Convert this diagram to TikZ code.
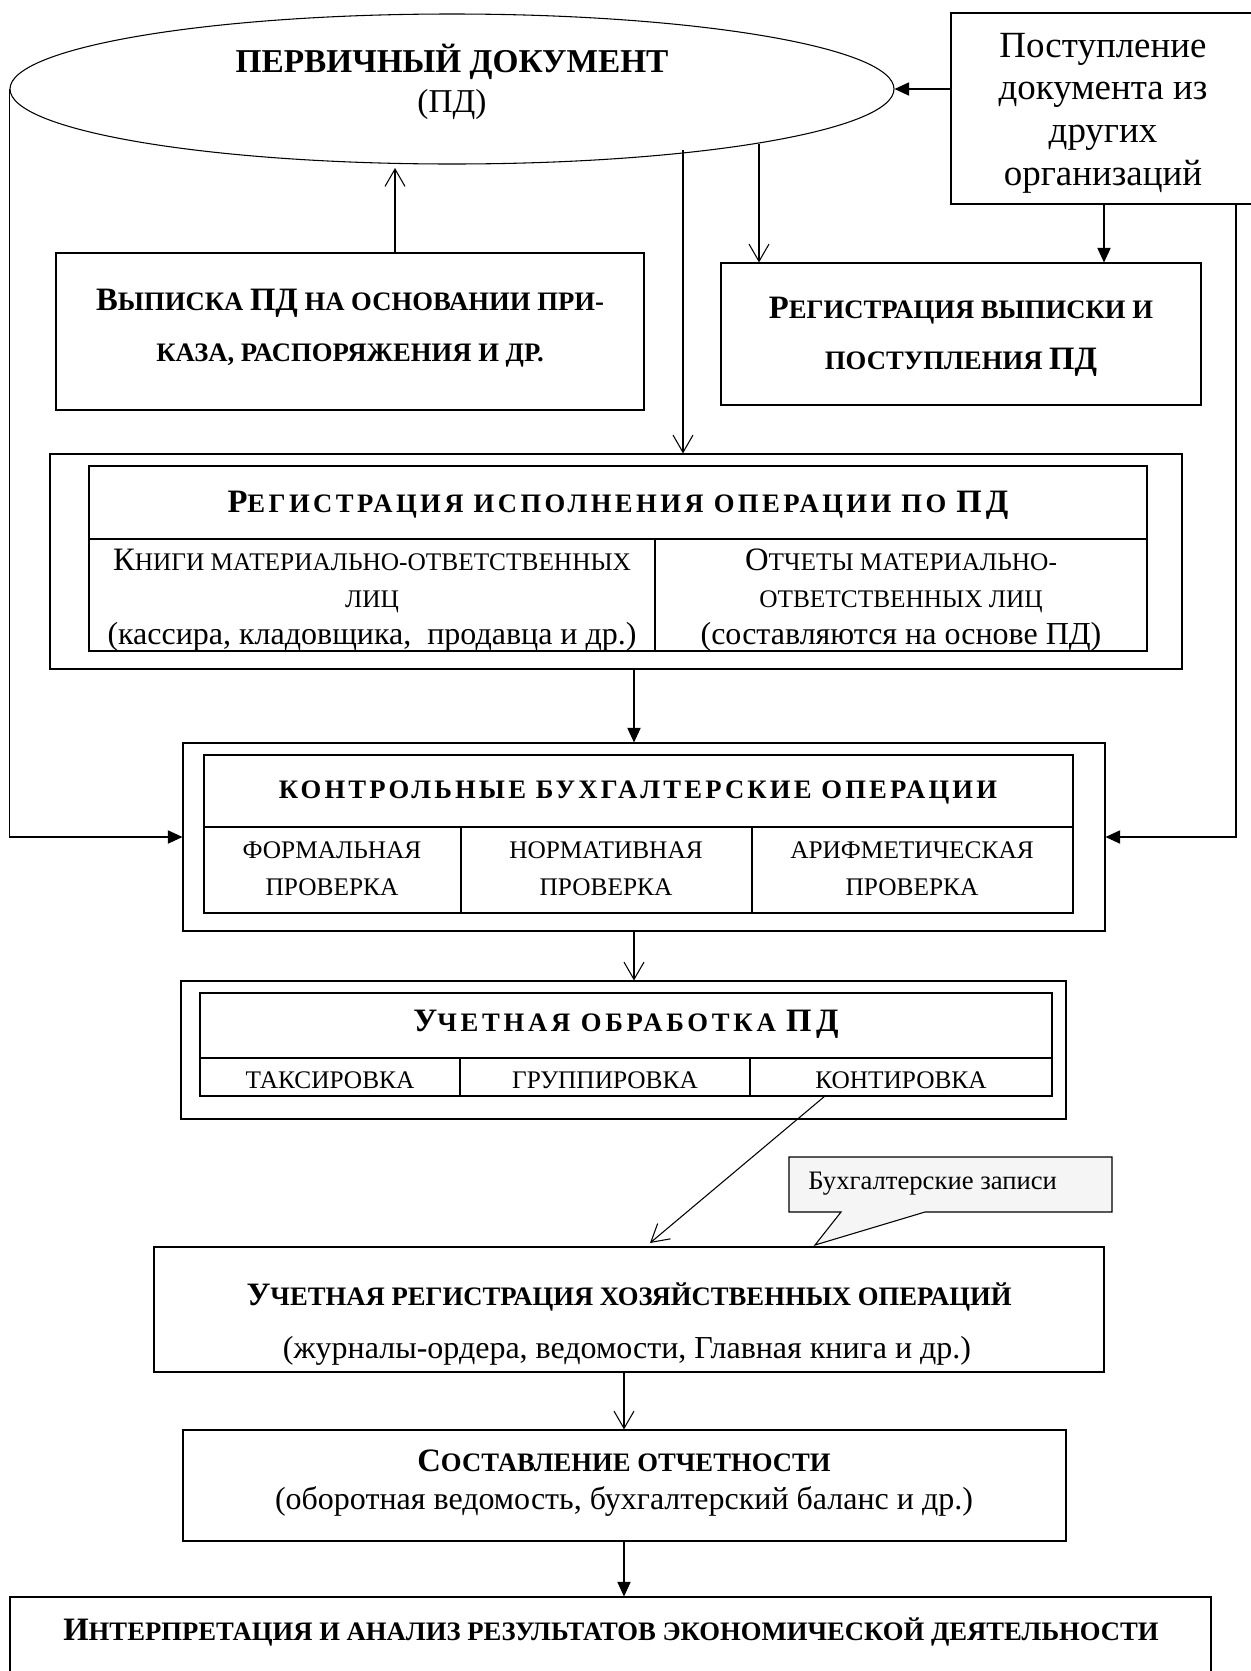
\documentclass[tikz,border=0pt]{standalone}
\usepackage{fontspec}
\setmainfont{Liberation Serif}
\usetikzlibrary{shapes.geometric,arrows.meta,fit,calc}
\newcommand\Bg[1]{{\fontsize{24.5pt}{\baselineskip}\selectfont #1}}
\newcommand\SCb{\fontsize{20pt}{38pt}\selectfont\bfseries}
\newcommand\SCr{\fontsize{19pt}{27.6pt}\selectfont}
\newcommand\RGr{\fontsize{24pt}{27.6pt}\selectfont}
\newcommand\LS[1]{\addfontfeatures{LetterSpace=#1}}
\tikzset{
  box/.style={draw, line width=0.8pt, inner sep=0pt},
  tbl/.style={draw, line width=1.2pt, inner sep=0pt},
  oa/.style={line width=0.8pt, -{Straight Barb[length=13pt,width=15pt]}},
  fa/.style={line width=0.8pt, -{Triangle[length=11pt,width=10pt]}},
  txt/.style={inner sep=0pt, align=center}
}
\begin{document}
\begin{tikzpicture}[x=0.75pt,y=-0.75pt]
\useasboundingbox (0,0) rectangle (1250,1671);
\fill[white] (0,0) rectangle (1250,1671);

% ellipse
\node[ellipse, draw, line width=0.8pt, minimum width=663pt, minimum height=112.5pt, inner sep=0pt] (ell) at (452,89) {};
\node[txt, font=\fontsize{25pt}{30pt}\selectfont\bfseries] (ellt) at (452,62) {ПЕРВИЧНЫЙ ДОКУМЕНТ};
\node[txt, font=\fontsize{25pt}{30pt}\selectfont] (ellp) at (452,104) {(ПД)};

% incoming documents
\node[box, fit={(951,13)(1253,204)}] (post) {};
\node[txt, font=\fontsize{27.7pt}{32pt}\selectfont] (postt) at (1103,113) {Поступление\\документа из\\других\\организаций};

% vypiska
\node[box, fit={(56,253)(644,410)}] (vyp) {};
\node[txt, font=\SCb] (vypt) at (350,328) {\Bg{В}ЫПИСКА \Bg{ПД} НА ОСНОВАНИИ ПРИ-\\КАЗА, РАСПОРЯЖЕНИЯ И ДР.};

% registration of issue
\node[box, fit={(721,263)(1201,405)}] (regv) {};
\node[txt, font=\SCb] (regvt) at (961,337) {\Bg{Р}ЕГИСТРАЦИЯ ВЫПИСКИ И\\ПОСТУПЛЕНИЯ \Bg{ПД}};

% registration of execution
\node[box, fit={(50,454)(1182,669)}] (reg) {};
\node[tbl, fit={(89,466)(1147,651)}] (regi) {};
\draw[line width=1.2pt] (regi.west |- 0,539) coordinate (rg1) -- (regi.east |- 0,539) coordinate (rg2);
\draw[line width=0.8pt] (655,539) coordinate (rg3) -- (regi.south -| rg3);
\node[txt, font=\SCb\LS{12.8}] (regh) at (618,505) {\Bg{Р}ЕГИСТРАЦИЯ ИСПОЛНЕНИЯ ОПЕРАЦИИ ПО \Bg{ПД}};
\node[txt, font=\SCr] (regl) at (372,600) {\Bg{К}НИГИ МАТЕРИАЛЬНО-ОТВЕТСТВЕННЫХ\\ЛИЦ\\\RGr (кассира, кладовщика,\ \ продавца и др.)};
\node[txt, font=\SCr] (regr) at (901,600) {\Bg{О}ТЧЕТЫ МАТЕРИАЛЬНО-\\ОТВЕТСТВЕННЫХ ЛИЦ\\\RGr (составляются на основе ПД)};

% control operations
\node[box, fit={(183,743)(1105,931)}] (kon) {};
\node[tbl, fit={(204,755)(1073,913)}] (koni) {};
\draw[line width=1.2pt] (koni.west |- 0,827) coordinate (kn1) -- (koni.east |- 0,827) coordinate (kn2);
\draw[line width=0.8pt] (461,827) coordinate (kn3) -- (koni.south -| kn3);
\draw[line width=0.8pt] (752,827) coordinate (kn4) -- (koni.south -| kn4);
\node[txt, font=\SCb\LS{11.8}] (konh) at (638,793) {КОНТРОЛЬНЫЕ БУХГАЛТЕРСКИЕ ОПЕРАЦИИ};
\node[txt, font=\SCr] (kona) at (332,869) {ФОРМАЛЬНАЯ\\ПРОВЕРКА};
\node[txt, font=\SCr] (konb) at (606,869) {НОРМАТИВНАЯ\\ПРОВЕРКА};
\node[txt, font=\SCr] (konc) at (912,869) {АРИФМЕТИЧЕСКАЯ\\ПРОВЕРКА};

% accounting processing
\node[box, fit={(181,981)(1066,1119)}] (uch) {};
\node[tbl, fit={(200,993)(1052,1096)}] (uchi) {};
\draw[line width=1.2pt] (uchi.west |- 0,1058) coordinate (uc1) -- (uchi.east |- 0,1058) coordinate (uc2);
\draw[line width=0.8pt] (460,1058) coordinate (uc3) -- (uchi.south -| uc3);
\draw[line width=0.8pt] (750,1058) coordinate (uc4) -- (uchi.south -| uc4);
\node[txt, font=\SCb\LS{14}] (uchh) at (626,1024) {\Bg{У}ЧЕТНАЯ ОБРАБОТКА \Bg{ПД}};
\node[txt, font=\SCr] (ucha) at (330,1080) {ТАКСИРОВКА};
\node[txt, font=\SCr] (uchb) at (605,1080) {ГРУППИРОВКА};
\node[txt, font=\SCr] (uchc) at (901,1080) {КОНТИРОВКА};

% callout
\draw[line width=0.8pt, fill=gray!8] (789,1157) -- (1112,1157) -- (1112,1212) -- (925,1212) -- (815,1245) -- (841,1212) -- (789,1212) -- cycle;
\node[txt, anchor=west, font=\fontsize{20pt}{24pt}\selectfont] (callt) at (808,1184) {Бухгалтерские записи};

% accounting registration
\node[box, fit={(154,1247)(1104,1372)}] (ureg) {};
\node[txt, font=\SCb] (uregt) at (629,1297) {\Bg{У}ЧЕТНАЯ РЕГИСТРАЦИЯ ХОЗЯЙСТВЕННЫХ ОПЕРАЦИЙ};
\node[txt, font=\RGr] (uregs) at (627,1351) {(журналы-ордера, ведомости, Главная книга и др.)};

% reporting
\node[box, fit={(183,1430)(1066,1541)}] (sost) {};
\node[txt, font=\SCb] (sostt) at (624,1461) {\Bg{С}ОСТАВЛЕНИЕ ОТЧЕТНОСТИ};
\node[txt, font=\RGr] (osts) at (624,1501) {(оборотная ведомость, бухгалтерский баланс и др.)};

% interpretation
\node[box, fit={(10,1597)(1211,1710)}] (interp) {};
\node[txt, font=\SCb] (interpt) at (611,1632) {\Bg{И}НТЕРПРЕТАЦИЯ И АНАЛИЗ РЕЗУЛЬТАТОВ ЭКОНОМИЧЕСКОЙ ДЕЯТЕЛЬНОСТИ};

% connectors
\draw[fa] (ell.west) |- (kon.west);
\coordinate (pr) at (1236,204);
\draw[fa] (pr) |- (kon.east);
\draw[fa] (post.west |- ell.east) -- (ell.east);
\coordinate (pb) at (1104,204);
\draw[fa] (pb) -- (pb |- regv.north);
\coordinate (e1) at (759,144);
\draw[oa] (e1) -- (e1 |- regv.north);
\coordinate (e2) at (683,150);
\draw[oa] (e2) -- (e2 |- reg.north);
\coordinate (v1) at (395,168);
\draw[oa] (vyp.north -| v1) -- (v1);
\coordinate (c1) at (634,0);
\draw[fa] (reg.south -| c1) -- (kon.north -| c1);
\draw[oa] (kon.south -| c1) -- (uch.north -| c1);
\coordinate (d1) at (825,1096);
\coordinate (d2) at (650,1243);
\draw[oa] (d1) -- (d2);
\coordinate (c2) at (624,0);
\draw[oa] (ureg.south -| c2) -- (sost.north -| c2);
\draw[fa] (sost.south -| c2) -- (interp.north -| c2);
\end{tikzpicture}
\end{document}
